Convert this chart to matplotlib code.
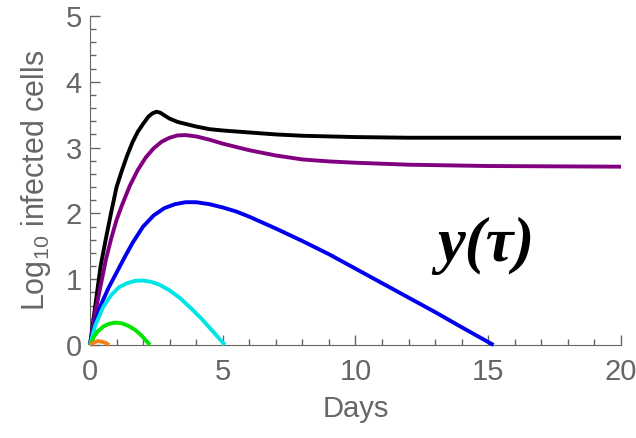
import matplotlib
matplotlib.use('Agg')
import matplotlib.pyplot as plt
from matplotlib.ticker import MultipleLocator

# curves (days, log10 infected cells)
black_t = [0, 0.2, 0.4, 0.6, 0.8, 1.0, 1.2, 1.4, 1.6, 1.8, 2.0, 2.2, 2.35, 2.5, 2.65, 2.8, 3.0,
           3.3, 3.6, 4.0, 4.5, 5, 6, 7, 8, 9, 10, 12, 15, 20]
black_y = [0, 0.6, 1.2, 1.62, 2.02, 2.4, 2.65, 2.88, 3.08, 3.24, 3.36, 3.47, 3.52, 3.545, 3.53, 3.49, 3.44,
           3.39, 3.36, 3.32, 3.28, 3.26, 3.23, 3.2, 3.18, 3.17, 3.16, 3.15, 3.15, 3.15]

purple_t = [0, 0.2, 0.4, 0.6, 0.8, 1.0, 1.2, 1.5, 1.8, 2.1, 2.4, 2.7, 3.0, 3.3, 3.6, 4.0, 4.5,
            5, 5.5, 6, 7, 8, 9, 10, 12, 15, 20]
purple_y = [0, 0.5, 0.9, 1.3, 1.62, 1.9, 2.12, 2.42, 2.66, 2.85, 2.99, 3.09, 3.15, 3.185, 3.19, 3.17, 3.12,
            3.06, 3.01, 2.96, 2.88, 2.82, 2.79, 2.77, 2.74, 2.72, 2.71]

blue_t = [0, 0.2, 0.4, 0.7, 1.0, 1.3, 1.6, 2.0, 2.4, 2.8, 3.2, 3.6, 4.0, 4.5, 5.0, 5.5, 6,
          7, 8, 9, 10, 11, 12, 13, 14, 15.2]
blue_y = [0, 0.35, 0.6, 0.87, 1.1, 1.33, 1.55, 1.8, 1.97, 2.08, 2.14, 2.17, 2.17, 2.14, 2.09, 2.03, 1.95,
          1.77, 1.58, 1.38, 1.16, 0.94, 0.72, 0.5, 0.27, 0]

cyan_t = [0, 0.2, 0.5, 0.8, 1.1, 1.4, 1.7, 2.0, 2.3, 2.6, 3.0, 3.4, 3.8, 4.2, 4.6, 5.08]
cyan_y = [0, 0.3, 0.58, 0.76, 0.88, 0.94, 0.975, 0.98, 0.96, 0.92, 0.83, 0.71, 0.56, 0.4, 0.22, 0]

green_t = [0, 0.15, 0.3, 0.5, 0.7, 0.95, 1.2, 1.45, 1.7, 1.95, 2.26]
green_y = [0, 0.13, 0.21, 0.28, 0.32, 0.34, 0.33, 0.29, 0.23, 0.14, 0]

orange_t = [0, 0.15, 0.3, 0.45, 0.6, 0.72]
orange_y = [0, 0.04, 0.06, 0.05, 0.03, 0]

gray = '#666666'
plt.rcParams['font.family'] = 'Liberation Sans'
plt.rcParams['mathtext.fontset'] = 'custom'
plt.rcParams['mathtext.rm'] = 'Liberation Sans'

fig = plt.figure(figsize=(6.36, 4.38), dpi=100)
ax = fig.add_axes([0.1415, 0.2123, 0.8349, 0.7512])

curves = [
    (black_t, black_y, 'black'),
    (purple_t, purple_y, '#800080'),
    (blue_t, blue_y, '#0000ee'),
    (cyan_t, cyan_y, '#00e6e6'),
    (green_t, green_y, '#00e600'),
    (orange_t, orange_y, '#f07f1a'),
]
for t, y, c in curves:
    ax.plot(t, y, color=c, lw=2.8, clip_on=False, zorder=3,
            solid_capstyle='butt', solid_joinstyle='round')

ax.set_xlim(0, 20)
ax.set_ylim(0, 5)
ax.xaxis.set_major_locator(MultipleLocator(5))
ax.xaxis.set_minor_locator(MultipleLocator(1))
ax.yaxis.set_major_locator(MultipleLocator(1))
ax.yaxis.set_minor_locator(MultipleLocator(0.2))
ax.tick_params(which='both', direction='in', color=gray, labelcolor=gray,
               labelsize=21, width=1)
ax.tick_params(which='major', length=7)
ax.tick_params(which='minor', length=4)
ax.tick_params(axis='x', pad=9)
ax.tick_params(axis='y', pad=6)
for s in ['top', 'right']:
    ax.spines[s].set_visible(False)
for s in ['left', 'bottom']:
    ax.spines[s].set_color(gray)

ax.set_xlabel('Days', color=gray, fontsize=21, labelpad=7)
ax.set_ylabel(r'Log$_{\mathrm{10}}$ infected cells', color=gray, fontsize=22, labelpad=9)

ax.text(14.9, 1.5, 'y(τ)', family='Liberation Serif', weight='bold', style='italic',
        fontsize=45, ha='center', va='center')

fig.savefig('out.png', dpi=100)
